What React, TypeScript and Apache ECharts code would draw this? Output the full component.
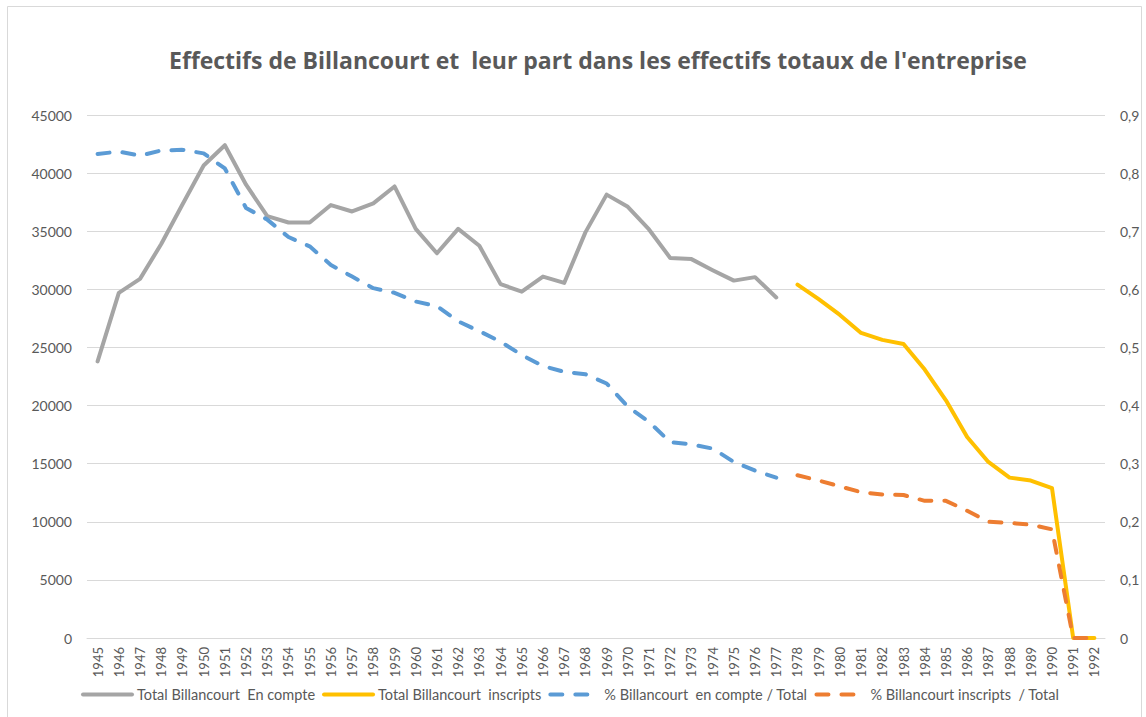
import React, { useEffect, useRef } from "react";
import * as echarts from "echarts";

const years: string[] = [];
for (let y = 1945; y <= 1992; y++) years.push(String(y));

const enCompte = [
  23800, 29700, 30900, 33900, 37300, 40650, 42400, 39000, 36300, 35750, 35750,
  37250, 36700, 37400, 38850, 35200, 33100, 35200, 33750, 30450, 29800, 31100,
  30550, 34900, 38150, 37100, 35150, 32700, 32600, 31650, 30750, 31050, 29300,
];
const inscrits = [
  30400, 29150, 27800, 26250, 25650, 25300, 23100, 20450, 17300, 15150, 13800,
  13550, 12900, 0, 0,
];
const partEnCompte = [
  0.833, 0.837, 0.83, 0.839, 0.84, 0.834, 0.808, 0.74, 0.72, 0.69, 0.674, 0.642,
  0.622, 0.602, 0.594, 0.579, 0.571, 0.545, 0.528, 0.51, 0.487, 0.468, 0.458,
  0.454, 0.438, 0.398, 0.372, 0.337, 0.333, 0.326, 0.303, 0.288, 0.276,
];
const partInscrits = [
  0.28, 0.271, 0.261, 0.251, 0.247, 0.246, 0.236, 0.236, 0.219, 0.2, 0.198,
  0.195, 0.187, 0, 0,
];

const seriesNames = [
  "Total Billancourt  En compte",
  "Total Billancourt  inscripts",
  "% Billancourt  en compte / Total",
  "% Billancourt inscripts  / Total",
];
const title =
  "Effectifs de Billancourt et  leur part dans les effectifs totaux de l'entreprise";

const nEarly = enCompte.length;
const pad = (arr: number[], before: number, after: number) => [
  ...Array(before).fill(null),
  ...arr,
  ...Array(after).fill(null),
];

export default function App() {
  const ref = useRef<HTMLDivElement>(null);
  useEffect(() => {
    document.body.style.margin = "0";
    const chart = echarts.init(ref.current!, null, { renderer: "svg" });
    const font = "Lato, 'Open Sans', sans-serif";
    const txt = "#595959";
    const n = years.length;
    const late = n - nEarly;
    chart.setOption({
      animation: false,
      backgroundColor: "#ffffff",
      textStyle: { fontFamily: font },
      title: {
        text: title,
        left: 164,
        top: 43,
        textStyle: {
          fontFamily: "'Open Sans', sans-serif",
          fontSize: 23,
          fontWeight: "bold",
          color: txt,
        },
      },
      graphic: [
        {
          type: "rect",
          shape: { x: 7.5, y: 6.5, width: 1134, height: 730 },
          style: { fill: "none", stroke: "#d9d9d9", lineWidth: 1 },
          silent: true,
        },
      ],
      grid: { left: 87, right: 41, top: 115, bottom: 79, containLabel: false },
      legend: {
        bottom: 10,
        left: 76,
        itemWidth: 49,
        itemHeight: 10,
        itemGap: 7,
        textStyle: { fontFamily: font, fontSize: 14.5, color: txt },
        lineStyle: { width: 4 },
        itemStyle: { color: "transparent", borderWidth: 0, opacity: 0 },
        data: seriesNames,
      },
      xAxis: {
        type: "category",
        data: years,
        boundaryGap: true,
        axisLine: { show: true, lineStyle: { color: "#d9d9d9", width: 1 } },
        axisTick: { show: false },
        axisLabel: {
          rotate: 90,
          interval: 0,
          margin: 9,
          fontFamily: font,
          fontSize: 13,
          color: txt,
        },
      },
      yAxis: [
        {
          type: "value",
          min: 0,
          max: 45000,
          interval: 5000,
          axisLine: { show: false },
          axisTick: { show: false },
          splitLine: { lineStyle: { color: "#d9d9d9", width: 1 } },
          axisLabel: {
            margin: 15,
            fontFamily: font,
            fontSize: 14,
            color: txt,
            formatter: (v: number) => String(v),
          },
        },
        {
          type: "value",
          min: 0,
          max: 0.9,
          interval: 0.1,
          axisLine: { show: false },
          axisTick: { show: false },
          splitLine: { show: false },
          axisLabel: {
            margin: 15,
            fontFamily: font,
            fontSize: 14,
            color: txt,
            formatter: (v: number) =>
              v === 0 ? "0" : v.toFixed(1).replace(".", ","),
          },
        },
      ],
      series: [
        {
          name: seriesNames[0],
          type: "line",
          yAxisIndex: 0,
          data: pad(enCompte, 0, late),
          symbol: "none",
          color: "#a5a5a5",
          lineStyle: { width: 4, color: "#a5a5a5", cap: "round", join: "round" },
        },
        {
          name: seriesNames[1],
          type: "line",
          yAxisIndex: 0,
          data: pad(inscrits, nEarly, 0),
          symbol: "none",
          color: "#ffc000",
          lineStyle: { width: 4, color: "#ffc000", cap: "round", join: "round" },
        },
        {
          name: seriesNames[2],
          type: "line",
          yAxisIndex: 1,
          data: pad(partEnCompte, 0, late),
          symbol: "none",
          color: "#5b9bd5",
          lineStyle: {
            width: 4,
            color: "#5b9bd5",
            type: [12, 13],
            cap: "round",
            join: "round",
          },
        },
        {
          name: seriesNames[3],
          type: "line",
          yAxisIndex: 1,
          data: pad(partInscrits, nEarly, 0),
          symbol: "none",
          color: "#ed7d31",
          lineStyle: {
            width: 4,
            color: "#ed7d31",
            type: [12, 13],
            cap: "round",
            join: "round",
          },
        },
      ],
    });
    return () => chart.dispose();
  }, []);
  return (
    <div
      ref={ref}
      style={{ position: "fixed", left: 0, top: 0, width: 1146, height: 717 }}
    />
  );
}
